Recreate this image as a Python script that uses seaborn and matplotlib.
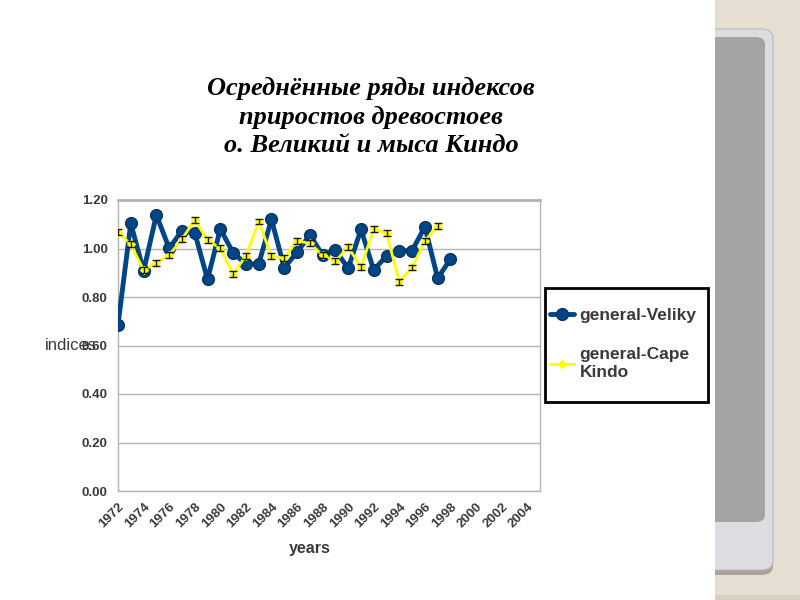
import numpy as np
import pandas as pd
import matplotlib
matplotlib.use("Agg")
import matplotlib.pyplot as plt
from matplotlib.patches import FancyBboxPatch, Rectangle
from matplotlib.ticker import MultipleLocator
import seaborn as sns

# ---------------------------------------------------
# DATA
# ---------------------------------------------------

years_veliky = list(range(1972, 1999))
veliky = [0.685, 1.104, 0.907, 1.138, 1.001, 1.073, 1.065, 0.873, 1.080,
          0.983, 0.936, 0.936, 1.120, 0.921, 0.984, 1.056, 0.973, 0.994,
          0.918, 1.079, 0.911, 0.970, 0.991, 0.991, 1.090, 0.877, 0.957]
veliky_err = [0.010, 0.010, 0.010, 0.010, 0.010, 0.010, 0.010, 0.010, 0.010,
              0.010, 0.010, 0.010, 0.010, 0.010, 0.010, 0.010, 0.010, 0.010,
              0.010, 0.010, 0.010, 0.010, 0.010, 0.010, 0.010, 0.010, 0.010]

years_kindo = list(range(1972, 1998))
kindo = [1.067, 1.017, 0.911, 0.941, 0.973, 1.038, 1.118, 1.035, 1.001,
         0.895, 0.969, 1.111, 0.969, 0.960, 1.032, 1.021, 0.973, 0.948,
         1.005, 0.925, 1.079, 1.063, 0.863, 0.922, 1.032, 1.093]
kindo_err = [0.012, 0.012, 0.012, 0.012, 0.012, 0.012, 0.012, 0.012, 0.012,
             0.012, 0.012, 0.012, 0.012, 0.012, 0.012, 0.012, 0.012, 0.012,
             0.012, 0.012, 0.012, 0.012, 0.012, 0.012, 0.012, 0.012]

year_labels = list(range(1972, 2005, 2))
y_ticks = [0.0, 0.2, 0.4, 0.6, 0.8, 1.0, 1.2]

title = "Осреднённые ряды индексов\nприростов древостоев\nо. Великий и мыса Киндо"

BLUE = "#004586"
YELLOW = "#ffff00"
GRID = "#b3b3b3"
TXT = "#3a3a3a"

df = pd.concat([
    pd.DataFrame({"year": years_veliky, "index": veliky, "series": "general-Veliky"}),
    pd.DataFrame({"year": years_kindo, "index": kindo, "series": "general-Cape\nKindo"}),
])

# ---------------------------------------------------
# FIGURE
# ---------------------------------------------------

sns.set_style("white")
plt.rcParams["font.family"] = ["Liberation Sans", "DejaVu Sans"]

fig = plt.figure(figsize=(8, 6), dpi=100)
ax = fig.add_axes([118 / 800, 109 / 600, 422 / 800, 291 / 600])

sns.lineplot(data=df[df.series == "general-Veliky"], x="year", y="index",
             color=BLUE, lw=3.5, marker="o", markersize=8.5,
             markeredgecolor="#0a3560", markeredgewidth=1,
             label="general-Veliky", ax=ax, zorder=3)
ax.errorbar(years_veliky, veliky, yerr=veliky_err, fmt="none",
            ecolor="#1a1a1a", elinewidth=1, capsize=3, zorder=2)

sns.lineplot(data=df[df.series != "general-Veliky"], x="year", y="index",
             color=YELLOW, lw=2, marker="D", markersize=4,
             markeredgecolor=YELLOW, label="general-Cape\nKindo",
             ax=ax, zorder=4)
ax.errorbar(years_kindo, kindo, yerr=kindo_err, fmt="none",
            ecolor="#1a1a1a", elinewidth=1, capsize=3, zorder=5)

ax.set_xlim(1972, 2005)
ax.set_ylim(0, 1.2)
ax.set_xticks(year_labels)
ax.set_xticklabels([str(y) for y in year_labels], rotation=45, ha="right",
                   rotation_mode="anchor", fontsize=9.5, fontweight="bold", color=TXT)
ax.xaxis.set_minor_locator(MultipleLocator(1))
ax.set_yticks(y_ticks)
ax.set_yticklabels([f"{v:.2f}" for v in y_ticks], fontsize=9.5,
                   fontweight="bold", color=TXT)
ax.tick_params(axis="both", which="both", direction="out", length=4,
               color=GRID, width=1)
ax.tick_params(axis="x", pad=3)
ax.set_xlabel("")
ax.set_ylabel("")

ax.grid(axis="y", color=GRID, lw=1)
ax.set_axisbelow(True)
for side in ["left", "bottom", "right", "top"]:
    ax.spines[side].set_visible(True)
    ax.spines[side].set_color(GRID)
    ax.spines[side].set_linewidth(1)
ax.spines["top"].set_linewidth(2)

# legend: entries placed inside a separately drawn box
fig.patches.append(Rectangle((545 / 800, 1 - 402 / 600), 163 / 800, 114 / 600,
                             transform=fig.transFigure, facecolor="white",
                             edgecolor="black", lw=2, zorder=-1))
leg = ax.legend(loc="upper left", bbox_to_anchor=(550 / 800, 1 - 308 / 600),
                bbox_transform=fig.transFigure, frameon=False,
                handlelength=1.4, handletextpad=0.3,
                labelspacing=1.4, borderpad=0, borderaxespad=0,
                prop={"family": "Liberation Sans", "weight": "bold", "size": 12.5})
for t in leg.get_texts():
    t.set_color(TXT)

fig.text(0.464, 1 - 117 / 600, title, ha="center", va="center",
         family="Liberation Serif", style="italic", weight="bold",
         fontsize=19, linespacing=1.32, color="black")
fig.text(310 / 800, 1 - 548 / 600, "years", ha="center", va="center",
         fontsize=11.5, fontweight="bold", color=TXT)
fig.text(45 / 800, 1 - 345 / 600, "indices", ha="left", va="center",
         fontsize=12, color=TXT)

# slide decoration on the right
clip = Rectangle((715 / 800, 0), 85 / 800, 1, transform=fig.transFigure)
fig.patches.append(Rectangle((715 / 800, 0), 85 / 800, 1, transform=fig.transFigure,
                             facecolor="#e6ded2", edgecolor="none", zorder=-2))
fig.patches.append(Rectangle((715 / 800, 0), 85 / 800, 5 / 600, transform=fig.transFigure,
                             facecolor="#d9d0c3", edgecolor="none", zorder=-2))
shadow = FancyBboxPatch((690 / 800, 1 - 575 / 600), 83 / 800, 544 / 600,
                        boxstyle="round,pad=0,rounding_size=0.015",
                        transform=fig.transFigure, facecolor="#a9a49b",
                        edgecolor="none", zorder=-2)
outer = FancyBboxPatch((690 / 800, 1 - 570 / 600), 83 / 800, 541 / 600,
                       boxstyle="round,pad=0,rounding_size=0.015",
                       transform=fig.transFigure, facecolor="#dcdce1",
                       edgecolor="#b8b8b8", lw=0.8, zorder=-2)
inner = FancyBboxPatch((690 / 800, 1 - 522 / 600), 75 / 800, 485 / 600,
                       boxstyle="round,pad=0,rounding_size=0.012",
                       transform=fig.transFigure, facecolor="#a4a4a4",
                       edgecolor="none", zorder=-2)
for p in (shadow, outer, inner):
    p.set_clip_path(clip)
    fig.patches.append(p)

fig.savefig("out.png", dpi=100)
